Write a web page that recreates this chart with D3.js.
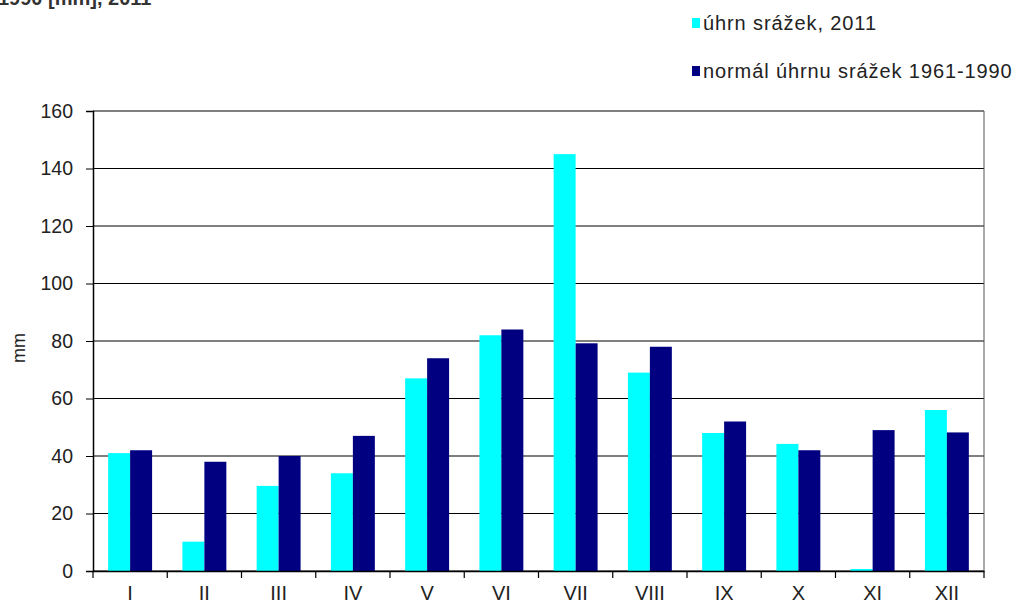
<!DOCTYPE html>
<html>
<head>
<meta charset="utf-8">
<script src="https://cdn.jsdelivr.net/npm/d3@7"></script>
<style>
body { margin: 0; background: #fff; }
text { font-family: "Liberation Sans", Arial, sans-serif; }
</style>
</head>
<body>
<div id="chart"></div>
<script>
var width = 1021;
var height = 603;

// monthly data
var months = ["I", "II", "III", "IV", "V", "VI", "VII", "VIII", "IX", "X", "XI", "XII"];
var rain2011 = [41, 10.2, 29.6, 34, 67, 82, 145, 69, 48, 44.2, 0.7, 56];
var normal = [42, 38, 40, 47, 74, 84, 79.2, 78, 52, 42, 49, 48.2];
var yTicks = [0, 20, 40, 60, 80, 100, 120, 140, 160];
var seriesNames = ["úhrn srážek, 2011", "normál úhrnu srážek 1961-1990"];
var colors = ["#00ffff", "#000080"];

var margin = {left: 93, top: 111, right: 1021 - 984, bottom: 603 - 571};

var svg = d3.select("#chart").append("svg")
.attr("width", width)
.attr("height", height);

// title, cut off at the top edge like the source
svg.append("text")
.attr("x", -2)
.attr("y", 5)
.attr("font-size", 20)
.attr("font-weight", "bold")
.attr("fill", "#333")
.text("1990 [mm], 2011");

var x = d3.scaleBand()
.domain(months)
.range([margin.left, width - margin.right])
.paddingInner(0)
.paddingOuter(0);

var xSub = d3.scaleBand()
.domain([0, 1])
.range([0, x.bandwidth()])
.paddingOuter(0.69)
.paddingInner(0);

var y = d3.scaleLinear()
.domain([0, 160])
.range([height - margin.bottom, margin.top]);

// gridlines
svg.append("g")
.selectAll("line")
.data(yTicks)
.enter().append("line")
.attr("x1", margin.left)
.attr("x2", width - margin.right)
.attr("y1", function(d) { return y(d); })
.attr("y2", function(d) { return y(d); })
.attr("stroke", "#000")
.attr("stroke-width", 1.2);

// plot border on the right
svg.append("line")
.attr("x1", width - margin.right).attr("x2", width - margin.right)
.attr("y1", margin.top).attr("y2", height - margin.bottom)
.attr("stroke", "#555");

// bars
var series = [rain2011, normal];
series.forEach(function(vals, s) {
svg.append("g")
    .selectAll("rect")
    .data(vals)
    .enter().append("rect")
    .attr("x", function(d, i) { return x(months[i]) + xSub(s); })
    .attr("width", xSub.bandwidth())
    .attr("y", function(d) { return y(d); })
    .attr("height", function(d) { return y(0) - y(d); })
    .attr("fill", colors[s]);
});

// y axis
var yAxis = svg.append("g")
.attr("transform", "translate(" + margin.left + ",0)")
.call(d3.axisLeft(y).tickValues(yTicks).tickSize(7).tickPadding(13).tickFormat(d3.format("d")));
yAxis.selectAll("text").attr("font-size", 19.5).attr("fill", "#222").attr("font-family", "Liberation Sans, Arial, sans-serif");
yAxis.selectAll("line").attr("stroke", "#000");
yAxis.select(".domain").attr("stroke", "#000").attr("stroke-width", 1.5);

// x axis
var xAxis = svg.append("g")
.attr("transform", "translate(0," + y(0) + ")")
.call(d3.axisBottom(x).tickSize(0).tickPadding(15));
xAxis.selectAll("text").attr("font-size", 20).attr("fill", "#222").attr("font-family", "Liberation Sans, Arial, sans-serif");
xAxis.select(".domain").attr("stroke", "#000").attr("stroke-width", 1.5);

// category separator ticks
svg.append("g")
.selectAll("line")
.data(months.concat(["end"]))
.enter().append("line")
.attr("x1", function(d, i) { return margin.left + i * x.step(); })
.attr("x2", function(d, i) { return margin.left + i * x.step(); })
.attr("y1", y(0))
.attr("y2", y(0) + 7)
.attr("stroke", "#000")
.attr("stroke-width", 1.2);

// y label
svg.append("text")
.attr("transform", "translate(25,348) rotate(-90)")
.attr("text-anchor", "middle")
.attr("font-size", 18)
.attr("fill", "#222")
.text("mm");

// legend
var legend = svg.append("g")
.selectAll("g")
.data(seriesNames)
.enter().append("g")
.attr("transform", function(d, i) { return "translate(692," + (18 + i * 48) + ")"; });

legend.append("rect")
.attr("width", 8)
.attr("height", 10)
.attr("fill", function(d, i) { return colors[i]; });

legend.append("text")
.attr("x", 11)
.attr("y", 12)
.attr("font-size", 20)
.attr("letter-spacing", 0.9)
.attr("fill", "#222")
.text(function(d) { return d; });
</script>
</body>
</html>
